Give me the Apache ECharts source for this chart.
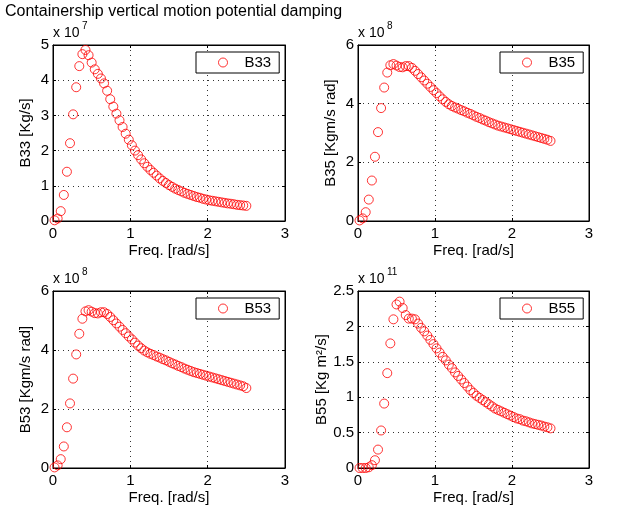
<!DOCTYPE html>
<html>
<head>
<meta charset="utf-8">
<script src="https://cdn.jsdelivr.net/npm/echarts@6/dist/echarts.min.js"></script>
<style>html,body{margin:0;background:#fff}#chart{width:619px;height:512px}</style>
</head>
<body>
<div id="chart"></div>
<script>
// frequencies [rad/s]
const freq=[0.02,0.06,0.10,0.14,0.18,0.22,0.26,0.30,0.34,0.38,0.42,0.46,0.50,0.54,0.58,0.62,0.66,0.70,0.74,0.78,
  0.82,0.86,0.90,0.94,0.98,1.02,1.06,1.10,1.14,1.18,1.22,1.26,1.30,1.34,1.38,1.42,1.46,1.50,1.54,1.58,
  1.62,1.66,1.70,1.74,1.78,1.82,1.86,1.90,1.94,1.98,2.02,2.06,2.10,2.14,2.18,2.22,2.26,2.30,2.34,2.38,
  2.42,2.46,2.50];
// B33, x 1e7 Kg/s
const b33=[0.02,0.07,0.28,0.74,1.40,2.21,3.03,3.80,4.40,4.74,4.86,4.71,4.50,4.31,4.18,4.05,3.91,3.70,3.46,3.25,
  3.05,2.86,2.67,2.48,2.31,2.15,2.00,1.87,1.75,1.64,1.54,1.45,1.37,1.29,1.21,1.14,1.08,1.02,0.97,0.92,
  0.88,0.84,0.80,0.77,0.74,0.71,0.68,0.66,0.63,0.61,0.59,0.575,0.56,0.545,0.53,0.515,0.50,0.49,0.475,0.46,
  0.45,0.44,0.43];
// B35, x 1e8 Kgm/s rad
const b35=[0.02,0.09,0.30,0.73,1.38,2.19,3.03,3.85,4.55,5.06,5.31,5.35,5.30,5.25,5.24,5.28,5.28,5.22,5.12,5.01,
  4.90,4.79,4.68,4.57,4.46,4.36,4.25,4.15,4.06,3.98,3.92,3.87,3.83,3.78,3.74,3.69,3.65,3.60,3.55,3.51,
  3.46,3.42,3.37,3.33,3.29,3.25,3.22,3.19,3.16,3.13,3.10,3.07,3.04,3.01,2.98,2.95,2.92,2.89,2.86,2.83,
  2.80,2.77,2.73];
// B53, x 1e8 Kgm/s rad
const b53=[0.02,0.09,0.30,0.73,1.38,2.19,3.03,3.85,4.55,5.06,5.31,5.35,5.30,5.25,5.24,5.28,5.28,5.22,5.12,5.01,
  4.90,4.79,4.68,4.57,4.46,4.36,4.25,4.15,4.06,3.98,3.92,3.87,3.83,3.78,3.74,3.69,3.65,3.60,3.55,3.51,
  3.46,3.42,3.37,3.33,3.29,3.25,3.22,3.19,3.16,3.13,3.10,3.07,3.04,3.01,2.98,2.95,2.92,2.89,2.86,2.83,
  2.80,2.77,2.71];
// B55, x 1e11 Kg m^2/s
const b55=[0.00,0.00,0.00,0.01,0.04,0.11,0.26,0.53,0.91,1.34,1.76,2.10,2.31,2.35,2.26,2.16,2.11,2.11,2.10,2.04,
  1.98,1.93,1.87,1.81,1.75,1.69,1.63,1.57,1.52,1.46,1.41,1.35,1.30,1.25,1.20,1.15,1.10,1.06,1.02,0.99,
  0.96,0.93,0.90,0.87,0.84,0.82,0.80,0.78,0.76,0.74,0.72,0.70,0.69,0.67,0.66,0.645,0.63,0.62,0.61,0.60,
  0.585,0.575,0.56];

const xTicks=[0,1,2,3];
const panels=[
  {name:"B33",vals:b33,yMax:5,yStep:1,yName:"B33 [Kg/s]",exp:"7",grid:{left:53,top:45,width:232,height:176}},
  {name:"B35",vals:b35,yMax:6,yStep:2,yName:"B35 [Kgm/s rad]",exp:"8",grid:{left:358,top:45,width:231,height:176}},
  {name:"B53",vals:b53,yMax:6,yStep:2,yName:"B53 [Kgm/s rad]",exp:"8",grid:{left:53,top:291,width:232,height:177}},
  {name:"B55",vals:b55,yMax:2.5,yStep:0.5,yName:"B55 [Kg m\u00b2/s]",exp:"11",grid:{left:358,top:291,width:231,height:177}}
];

const FONT="Liberation Sans";
const txt={fontFamily:FONT,fontSize:15,color:"#000"};
const split={show:true,lineStyle:{color:"#333",width:1,type:[1,4]}};
const line={show:true,onZero:false,lineStyle:{color:"#000",width:1}};
const tick={show:true,inside:true,length:3,lineStyle:{color:"#000"}};

const xAxes=[],yAxes=[];
panels.forEach((p,i)=>{
  const xr={gridIndex:i,type:"value",min:xTicks[0],max:xTicks[xTicks.length-1],interval:1};
  const yr={gridIndex:i,type:"value",min:0,max:p.yMax,interval:p.yStep};
  xAxes.push({...xr,position:"bottom",
    name:"Freq. [rad/s]",nameLocation:"middle",nameGap:22,nameTextStyle:txt,
    axisLine:line,axisTick:tick,axisLabel:{...txt,margin:5},splitLine:split});
  yAxes.push({...yr,position:"left",
    name:p.yName,nameLocation:"middle",nameGap:20,nameTextStyle:txt,
    axisLine:line,axisTick:tick,axisLabel:{...txt,margin:4},splitLine:split});
});
// top / right frame ticks
panels.forEach((p,i)=>{
  xAxes.push({gridIndex:i,type:"value",min:xTicks[0],max:xTicks[xTicks.length-1],interval:1,position:"top",
    axisLine:line,axisTick:tick,axisLabel:{show:false},splitLine:{show:false}});
  yAxes.push({gridIndex:i,type:"value",min:0,max:p.yMax,interval:p.yStep,position:"right",
    axisLine:line,axisTick:tick,axisLabel:{show:false},splitLine:{show:false}});
});

const chart=echarts.init(document.getElementById("chart"),null,{renderer:"canvas"});
chart.setOption({
  animation:false,
  backgroundColor:"#fff",
  textStyle:{fontFamily:FONT},
  grid:panels.map(p=>({...p.grid,show:true,borderColor:"#000",borderWidth:1,backgroundColor:"transparent"})),
  xAxis:xAxes,
  yAxis:yAxes,
  legend:panels.map((p,i)=>({
    data:[p.name],
    left:p.grid.left+p.grid.width-89,top:p.grid.top+7,
    orient:"vertical",
    backgroundColor:"#fff",borderColor:"#000",borderWidth:1,borderRadius:0,
    padding:[3,8,3,22],itemWidth:9,itemHeight:9,icon:"circle",
    itemStyle:{color:"rgba(0,0,0,0)",borderColor:"#ff0000",borderWidth:1},
    textStyle:{...txt,padding:[0,0,0,12]}
  })),
  series:panels.map((p,i)=>({
    name:p.name,type:"scatter",xAxisIndex:i,yAxisIndex:i,
    symbol:"circle",symbolSize:9,
    itemStyle:{color:"rgba(0,0,0,0)",borderColor:"#ff0000",borderWidth:1},
    data:freq.map((f,j)=>[f,p.vals[j]])
  })),
  graphic:[
    {type:"text",left:5,top:4,style:{text:"Containership vertical motion potential damping",font:`16px "${FONT}"`,fill:"#000"}},
    ...panels.flatMap(p=>[
      {type:"text",left:p.grid.left,top:p.grid.top-19,style:{text:"x 10",font:`14px "${FONT}"`,fill:"#000"}},
      {type:"text",left:p.grid.left+29,top:p.grid.top-24,style:{text:p.exp,font:`10px "${FONT}"`,fill:"#000"}}
    ])
  ]
});
addEventListener("resize",()=>chart.resize());
</script>
</body>
</html>
